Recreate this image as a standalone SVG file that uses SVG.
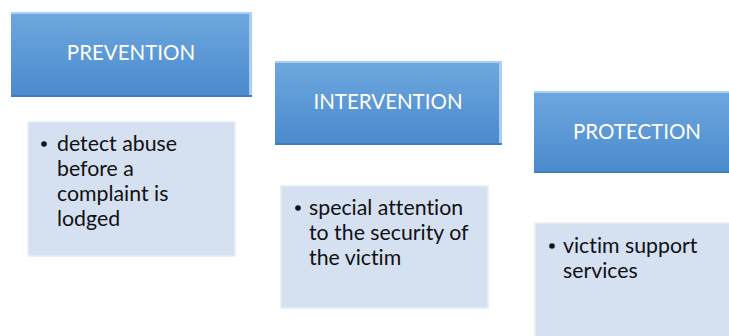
<svg xmlns="http://www.w3.org/2000/svg" width="729" height="336" viewBox="0 0 729 336">
<style>
.hdr{fill:url(#hg)}
.hl{fill:#A9D0F4}
.sh{fill:#3F7CC0}
.ht{font-family:Lato,"Open Sans",sans-serif;font-size:20.5px;fill:#FFFFFF;text-anchor:middle;font-variant-ligatures:none}
.body{fill:#D5E0F1;stroke:#E6EDF8;stroke-width:1.5}
.bt{font-family:Lato,"Open Sans",sans-serif;font-size:21.3px;fill:#111111;font-variant-ligatures:none}
.dot{fill:#111111}
</style>
<defs>
<linearGradient id="hg" x1="0" y1="0" x2="0" y2="1">
<stop offset="0" stop-color="#6EA8DE"/>
<stop offset="1" stop-color="#4A89CD"/>
</linearGradient>
</defs>
<rect width="729" height="336" fill="#FFFFFF"/>
<g id="prevention">
<rect class="hdr" x="11" y="12" width="241" height="85"/>
<rect class="hl" x="11" y="12" width="241" height="2"/>
<rect class="hl" x="249" y="12" width="3" height="85"/>
<rect class="sh" x="11" y="95" width="241" height="2"/>
<text class="ht" x="131" y="60">PREVENTION</text>
</g>
<g id="prevention-detail">
<rect class="body" x="28" y="122" width="207" height="134"/>
<circle class="dot" cx="44" cy="144" r="2.8"/>
<text class="bt" x="57" y="151">detect abuse</text>
<text class="bt" x="57" y="176">before a</text>
<text class="bt" x="57" y="201">complaint is</text>
<text class="bt" x="57" y="226">lodged</text>
</g>
<g id="intervention">
<rect class="hdr" x="275" y="61" width="227" height="84"/>
<rect class="hl" x="275" y="61" width="227" height="2"/>
<rect class="hl" x="499" y="61" width="3" height="84"/>
<rect class="sh" x="275" y="143" width="227" height="2"/>
<text class="ht" x="388" y="109">INTERVENTION</text>
</g>
<g id="intervention-detail">
<rect class="body" x="281" y="186" width="207" height="122"/>
<circle class="dot" cx="298" cy="208" r="2.8"/>
<text class="bt" x="309" y="215">special attention</text>
<text class="bt" x="309" y="240">to the security of</text>
<text class="bt" x="309" y="265">the victim</text>
</g>
<g id="protection">
<rect class="hdr" x="534" y="91" width="210" height="82"/>
<rect class="hl" x="534" y="91" width="210" height="2"/>
<rect class="sh" x="534" y="171" width="210" height="2"/>
<text class="ht" x="637" y="139">PROTECTION</text>
</g>
<g id="protection-detail">
<rect class="body" x="535" y="223" width="210" height="130"/>
<circle class="dot" cx="552" cy="246" r="2.8"/>
<text class="bt" x="563" y="253">victim support</text>
<text class="bt" x="563" y="278">services</text>
</g>
</svg>
